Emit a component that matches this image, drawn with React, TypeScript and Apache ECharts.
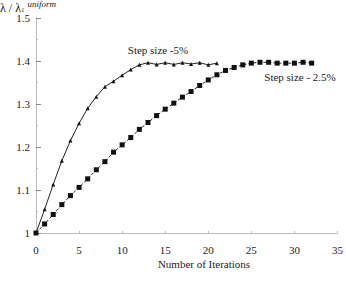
import React, { useEffect, useRef } from "react";
import * as echarts from "echarts";

const iterTri = Array.from({ length: 22 }, (_, i) => i);
const valTri = [1.0, 1.055, 1.113, 1.168, 1.215, 1.255, 1.29, 1.317, 1.34, 1.353, 1.367, 1.38, 1.391, 1.396, 1.392, 1.396, 1.392, 1.396, 1.393, 1.396, 1.391, 1.395];
const iterSq = Array.from({ length: 33 }, (_, i) => i);
const valSq = [1.0, 1.021, 1.043, 1.066, 1.087, 1.106, 1.126, 1.147, 1.166, 1.188, 1.205, 1.222, 1.241, 1.257, 1.273, 1.288, 1.302, 1.316, 1.329, 1.343, 1.356, 1.368, 1.378, 1.385, 1.391, 1.395, 1.397, 1.397, 1.395, 1.395, 1.395, 1.397, 1.395];
const labelTri = "Step size -5%";
const labelSq = "Step size - 2.5%";
const xName = "Number of Iterations";

const FONT = "Liberation Serif";

export default function App() {
  const ref = useRef<HTMLDivElement>(null);
  useEffect(() => {
    const chart = echarts.init(ref.current!, null, { renderer: "svg" });
    chart.setOption({
      animation: false,
      backgroundColor: "#fff",
      textStyle: { fontFamily: FONT },
      grid: { left: 36, right: 6, top: 18, bottom: 50 },
      xAxis: {
        type: "value",
        min: 0,
        max: 35,
        interval: 5,
        axisLine: { lineStyle: { color: "#bbb", width: 1 } },
        axisTick: { show: true, inside: true, length: 2, lineStyle: { color: "#bbb" } },
        axisLabel: { color: "#222", fontFamily: FONT, fontSize: 11, margin: 11 },
        splitLine: { show: false },
      },
      yAxis: {
        type: "value",
        min: 1,
        max: 1.5,
        interval: 0.1,
        axisLine: { show: true, lineStyle: { color: "#bbb", width: 1 } },
        axisTick: { show: true, inside: true, length: 5, lineStyle: { color: "#888" } },
        minorTick: { show: true, splitNumber: 2, length: 2, lineStyle: { color: "#bbb" } },
        axisLabel: { color: "#222", fontFamily: FONT, fontSize: 11, margin: 6 },
        splitLine: { show: false },
      },
      series: [
        {
          type: "line",
          data: iterTri.map((x, i) => [x, valTri[i]]),
          symbol: "triangle",
          symbolSize: 4,
          itemStyle: { color: "#111" },
          lineStyle: { color: "#222", width: 1 },
        },
        {
          type: "line",
          data: iterSq.map((x, i) => [x, valSq[i]]),
          symbol: "rect",
          symbolSize: 5,
          itemStyle: { color: "#111" },
          lineStyle: { color: "#222", width: 1, type: [3, 2] },
        },
      ],
      graphic: [
        {
          type: "text",
          left: 0,
          top: -1,
          style: {
            text: "{a|λ / λ}{s|1}{u|uniform}",
            rich: {
              a: { fontFamily: FONT, fontSize: 12, fill: "#222", verticalAlign: "bottom", lineHeight: 14 },
              s: { fontFamily: FONT, fontSize: 7, fill: "#222", padding: [6, 1, 0, 0] },
              u: { fontFamily: FONT, fontSize: 9, fontStyle: "italic", fill: "#222", padding: [0, 0, 6, 2] },
            },
          },
        },
        {
          type: "text",
          x: 158,
          y: 50,
          style: { text: labelTri, fontFamily: FONT, fontSize: 11, fill: "#222", align: "center", verticalAlign: "middle" },
        },
        {
          type: "text",
          x: 300,
          y: 77,
          style: { text: labelSq, fontFamily: FONT, fontSize: 11, fill: "#222", align: "center", verticalAlign: "middle" },
        },
        {
          type: "text",
          x: 204,
          y: 264,
          style: { text: xName, fontFamily: FONT, fontSize: 11, fill: "#222", align: "center", verticalAlign: "middle" },
        },
      ],
    });
    return () => chart.dispose();
  }, []);
  return <div ref={ref} style={{ width: 346, height: 283, position: "absolute", left: 0, top: 0 }} />;
}
